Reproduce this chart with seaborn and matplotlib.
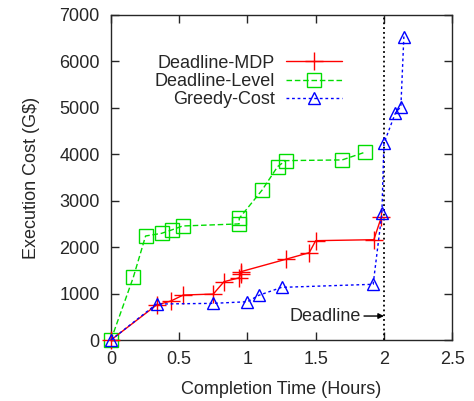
import matplotlib
matplotlib.use("Agg")
import matplotlib.pyplot as plt
import seaborn as sns
import pandas as pd

# Deadline-MDP
mdp_time = [0.0, 0.334, 0.439, 0.53, 0.75, 0.828, 0.94, 0.95, 0.95, 1.279, 1.453, 1.50, 1.926, 1.982]
mdp_cost = [0, 754, 840, 969, 990, 1256, 1340, 1420, 1470, 1737, 1881, 2139, 2160, 2656]

# Deadline-Level
level_time = [0.0, 0.164, 0.254, 0.371, 0.444, 0.525, 0.94, 0.94, 1.108, 1.221, 1.279, 1.694, 1.86]
level_cost = [0, 1350, 2240, 2297, 2369, 2455, 2500, 2620, 3230, 3733, 3862, 3877, 4042]

# Greedy-Cost
greedy_time = [0.0, 0.334, 0.75, 1.0, 1.083, 1.25, 1.921, 1.985, 2.0, 2.083, 2.124, 2.146]
greedy_cost = [0, 775, 790, 825, 962, 1134, 1200, 2728, 4235, 4880, 5025, 6533]

deadline = 2.0

sns.set_style("ticks")
plt.rcParams['font.family'] = ['Liberation Sans', 'DejaVu Sans']
plt.rcParams['font.size'] = 13

fig = plt.figure(figsize=(4.74, 4.01), dpi=100)
ax = fig.add_axes([0.234, 0.152, 0.720, 0.811])

df_mdp = pd.DataFrame({"t": mdp_time, "c": mdp_cost})
df_lvl = pd.DataFrame({"t": level_time, "c": level_cost})
df_gr = pd.DataFrame({"t": greedy_time, "c": greedy_cost})

sns.lineplot(data=df_mdp, x="t", y="c", ax=ax, estimator=None, sort=False,
             color="#ff0000", linestyle="-", linewidth=1, marker="+",
             markersize=13, markeredgecolor="#ff0000", markeredgewidth=1,
             label="Deadline-MDP", clip_on=False, zorder=4)
sns.lineplot(data=df_lvl, x="t", y="c", ax=ax, estimator=None, sort=False,
             color="#00dd00", linestyle=(0, (4, 2)), linewidth=1, marker="s",
             markersize=10, markerfacecolor="none", markeredgecolor="#00dd00",
             markeredgewidth=1, label="Deadline-Level", clip_on=False, zorder=3)
sns.lineplot(data=df_gr, x="t", y="c", ax=ax, estimator=None, sort=False,
             color="#0000ff", linestyle=(0, (2, 2)), linewidth=1, marker="^",
             markersize=9, markerfacecolor="none", markeredgecolor="#0000ff",
             markeredgewidth=1, label="Greedy-Cost", clip_on=False, zorder=5)

ax.axvline(deadline, color="black", linestyle=":", linewidth=1.3)
ax.annotate("Deadline", xy=(deadline, 517), xytext=(1.83, 517),
            ha="right", va="center", fontsize=13,
            arrowprops=dict(arrowstyle="-|>", color="black", lw=1,
                            shrinkA=0, shrinkB=0, mutation_scale=8))

ax.set_xlim(0, 2.5)
ax.set_ylim(0, 7000)
ax.set_xticks([0, 0.5, 1, 1.5, 2, 2.5])
ax.set_xticklabels(["0", "0.5", "1", "1.5", "2", "2.5"])
ax.set_yticks(range(0, 7001, 1000))
ax.set_xlabel("Completion Time (Hours)", labelpad=9)
ax.set_ylabel("Execution Cost (G\\$)", labelpad=14)

ax.tick_params(direction="in", length=6, width=1, top=True, right=True, pad=8)
for s in ax.spines.values():
    s.set_linewidth(1)
    s.set_visible(True)

ax.legend(loc="upper right", bbox_to_anchor=(0.697, 0.90), markerfirst=False,
          frameon=False, handlelength=3.1, labelspacing=0.07, borderaxespad=0,
          handletextpad=0.6)

fig.savefig("out.png", dpi=100)
